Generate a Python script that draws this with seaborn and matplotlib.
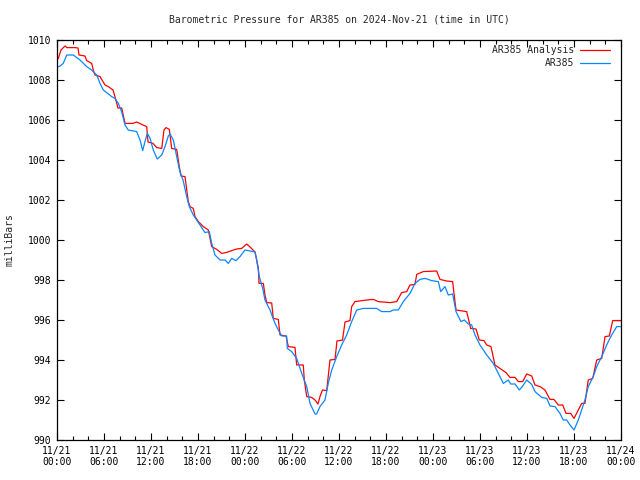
import pandas as pd
import matplotlib
matplotlib.use("Agg")
import matplotlib.pyplot as plt
import matplotlib.dates as mdates
import seaborn as sns

# hours since 2024-11-21 00:00 UTC and pressure (mb)
analysis_hours = [
    0.00, 0.17, 0.51, 1.02, 1.28, 2.30, 2.68, 2.81, 3.57, 3.79, 4.43, 4.63, 4.85,
    5.49, 6.13, 6.55, 7.15, 7.40, 7.78, 8.26, 8.68, 9.70, 10.17, 10.98, 11.45,
    11.62, 12.26, 12.73, 13.37, 13.66, 13.91, 14.34, 14.64, 15.28, 15.61, 15.83,
    16.34, 16.56, 16.76, 16.98, 17.40, 17.62, 18.04, 18.68, 19.32, 19.75, 20.39,
    21.03, 21.66, 22.30, 22.94, 23.58, 24.22, 24.64, 25.28, 25.70, 25.79, 26.34,
    26.55, 26.77, 27.41, 27.61, 28.25, 28.47, 29.23, 29.53, 30.38, 30.60, 31.44,
    31.57, 31.88, 32.51, 32.94, 33.32, 33.57, 33.89, 34.43, 34.63, 34.85, 35.49,
    35.74, 36.45, 36.77, 37.40, 37.62, 38.04, 39.54, 40.38, 41.02, 42.51, 43.37,
    44.00, 44.64, 45.06, 45.70, 45.92, 46.76, 48.47, 48.89, 49.75, 50.51, 50.68,
    50.94, 52.30, 52.81, 53.49, 53.91, 54.51, 54.86, 55.40, 55.91, 56.55, 57.32,
    57.83, 58.47, 58.89, 59.45, 59.96, 60.60, 61.02, 61.66, 62.30, 62.93, 63.44,
    63.99, 64.56, 64.98, 65.58, 66.00, 66.55, 66.98, 67.40, 67.82, 68.39, 68.90,
    69.54, 69.96, 70.51, 70.94, 72.00,
]
analysis_mb = [
    1009.00, 1009.08, 1009.50, 1009.70, 1009.62, 1009.62, 1009.60, 1009.25,
    1009.20, 1008.97, 1008.83, 1008.50, 1008.25, 1008.17, 1007.75, 1007.67,
    1007.50, 1007.17, 1006.60, 1006.60, 1005.83, 1005.83, 1005.90, 1005.75,
    1005.67, 1004.90, 1004.83, 1004.62, 1004.58, 1005.50, 1005.62, 1005.53,
    1004.58, 1004.53, 1003.67, 1003.20, 1003.17, 1002.50, 1001.92, 1001.67,
    1001.58, 1001.17, 1000.92, 1000.67, 1000.50, 999.67, 999.53, 999.33,
    999.38, 999.47, 999.55, 999.58, 999.80, 999.65, 999.40, 998.60, 997.83,
    997.83, 997.25, 996.87, 996.85, 996.08, 996.03, 995.25, 995.20, 994.67,
    994.63, 993.75, 993.75, 993.00, 992.17, 992.13, 992.00, 991.80, 992.17,
    992.50, 992.47, 993.20, 994.00, 994.03, 994.95, 995.00, 995.90, 995.97,
    996.67, 996.92, 997.00, 997.03, 996.92, 996.87, 996.92, 997.37, 997.42,
    997.75, 997.78, 998.28, 998.42, 998.45, 998.03, 997.95, 997.92, 997.33,
    996.50, 996.42, 995.58, 995.55, 995.00, 994.97, 994.75, 994.67, 993.75,
    993.58, 993.37, 993.13, 993.13, 992.92, 992.92, 993.30, 993.20, 992.75,
    992.67, 992.50, 992.03, 992.03, 991.75, 991.75, 991.33, 991.33, 991.08,
    991.50, 991.83, 991.83, 993.00, 993.08, 994.00, 994.08, 995.17, 995.20,
    995.97, 995.97,
]

station_hours = [
    0.00, 0.38, 0.80, 1.24, 2.08, 2.94, 3.79, 4.43, 5.07, 5.49, 5.91, 6.98,
    7.40, 7.83, 8.26, 8.68, 9.10, 10.17, 10.60, 10.94, 11.23, 11.53, 11.87,
    12.29, 12.80, 13.37, 13.79, 14.21, 14.43, 14.85, 15.28, 15.70, 16.09,
    16.56, 16.89, 17.40, 18.26, 18.89, 19.44, 19.75, 20.17, 20.81, 21.45,
    21.87, 22.30, 22.85, 23.36, 24.00, 24.64, 25.28, 25.49, 25.83, 26.26,
    26.55, 27.19, 27.83, 28.25, 28.69, 29.32, 29.40, 29.96, 30.60, 31.24,
    31.88, 32.30, 32.94, 33.15, 33.57, 34.21, 34.63, 35.07, 35.71, 36.34,
    36.98, 37.62, 38.26, 39.10, 40.81, 41.45, 42.51, 42.93, 43.57, 44.21,
    45.06, 45.70, 46.34, 46.98, 47.83, 48.68, 48.98, 49.53, 49.95, 50.51,
    50.94, 51.57, 52.00, 52.51, 52.94, 53.36, 54.00, 54.86, 55.70, 56.34,
    56.98, 57.61, 57.92, 58.47, 59.02, 59.45, 59.96, 60.60, 61.02, 61.88,
    62.52, 62.94, 63.57, 64.21, 64.63, 65.07, 65.49, 66.00, 66.55, 66.98,
    67.40, 67.82, 68.46, 68.90, 69.54, 70.17, 70.81, 71.45, 72.00,
]
station_mb = [
    1008.63, 1008.70, 1008.83, 1009.25, 1009.25, 1009.00, 1008.67, 1008.50,
    1008.25, 1007.83, 1007.50, 1007.17, 1007.08, 1006.83, 1006.40, 1005.75,
    1005.50, 1005.42, 1005.00, 1004.47, 1004.92, 1005.33, 1005.10, 1004.50,
    1004.05, 1004.25, 1004.67, 1005.20, 1005.30, 1005.00, 1004.17, 1003.40,
    1003.00, 1002.17, 1001.67, 1001.25, 1000.75, 1000.37, 1000.42, 999.83,
    999.25, 999.00, 999.00, 998.83, 999.08, 998.97, 999.17, 999.50, 999.45,
    999.40, 999.00, 998.17, 997.58, 997.00, 996.50, 995.83, 995.50, 995.20,
    995.20, 994.58, 994.42, 994.08, 993.33, 992.67, 991.83, 991.30, 991.30,
    991.67, 992.00, 992.83, 993.50, 994.17, 994.75, 995.25, 995.92, 996.50,
    996.58, 996.58, 996.42, 996.42, 996.50, 996.50, 996.92, 997.33, 997.83,
    998.03, 998.08, 997.97, 997.92, 997.42, 997.67, 997.25, 997.30, 996.42,
    995.92, 996.00, 995.80, 995.75, 995.25, 994.75, 994.25, 993.83, 993.33,
    992.83, 993.00, 992.80, 992.80, 992.50, 992.70, 993.00, 992.78, 992.42,
    992.13, 992.08, 991.70, 991.67, 991.33, 991.00, 991.00, 990.75, 990.50,
    991.00, 991.50, 992.00, 992.67, 993.17, 993.67, 994.17, 994.75, 995.25,
    995.67, 995.67,
]

START = pd.Timestamp("2024-11-21 00:00")


def build_frame():
    a = pd.DataFrame({"time": START + pd.to_timedelta(analysis_hours, unit="h"),
                      "mb": analysis_mb, "series": "AR385 Analysis"})
    s = pd.DataFrame({"time": START + pd.to_timedelta(station_hours, unit="h"),
                      "mb": station_mb, "series": "AR385"})
    return pd.concat([a, s], ignore_index=True)


def plot(df):
    sns.set_style("ticks")
    plt.rcParams["font.family"] = ["DejaVu Sans Mono"]
    plt.rcParams["font.size"] = 7

    fig = plt.figure(figsize=(6.4, 4.8), dpi=100)
    ax = fig.add_axes([57 / 640, 40 / 480, 564 / 640, 400 / 480])

    sns.lineplot(data=df, x="time", y="mb", hue="series", sort=False,
                 palette={"AR385 Analysis": "#ff0000", "AR385": "#0a86ff"},
                 linewidth=0.9, estimator=None, ax=ax)

    ax.set_xlim(START, START + pd.Timedelta(hours=72))
    ax.set_ylim(990, 1010)
    ax.set_yticks(range(990, 1011, 2))
    ax.xaxis.set_major_locator(mdates.HourLocator(byhour=[0, 6, 12, 18]))
    ax.xaxis.set_minor_locator(mdates.HourLocator(interval=2))
    ax.xaxis.set_major_formatter(mdates.DateFormatter("%m/%d\n%H:%M"))

    ax.tick_params(which="both", direction="in", top=True, right=True,
                   width=0.8, colors="black", labelsize=7)
    ax.tick_params(which="major", length=5, pad=4)
    ax.tick_params(which="minor", length=3)
    for sp in ax.spines.values():
        sp.set_linewidth(0.9)
        sp.set_color("black")

    ax.set_xlabel("")
    ax.set_ylabel("milliBars", fontsize=7)
    ax.yaxis.set_label_coords(-0.076, 0.5)

    fig.text(339 / 640, 1 - 19 / 480,
             "Barometric Pressure for AR385 on 2024-Nov-21 (time in UTC)",
             ha="center", va="center", fontsize=7)

    ax.legend(loc="upper right", bbox_to_anchor=(610 / 640, 1 - 45 / 480),
              bbox_transform=fig.transFigure, frameon=False, markerfirst=False,
              fontsize=7, handlelength=3.1, handletextpad=0.6,
              labelspacing=0.3, borderpad=0, borderaxespad=0)

    fig.savefig("out.png", dpi=100)


def main():
    df = build_frame()
    plot(df)


if __name__ == "__main__":
    main()
